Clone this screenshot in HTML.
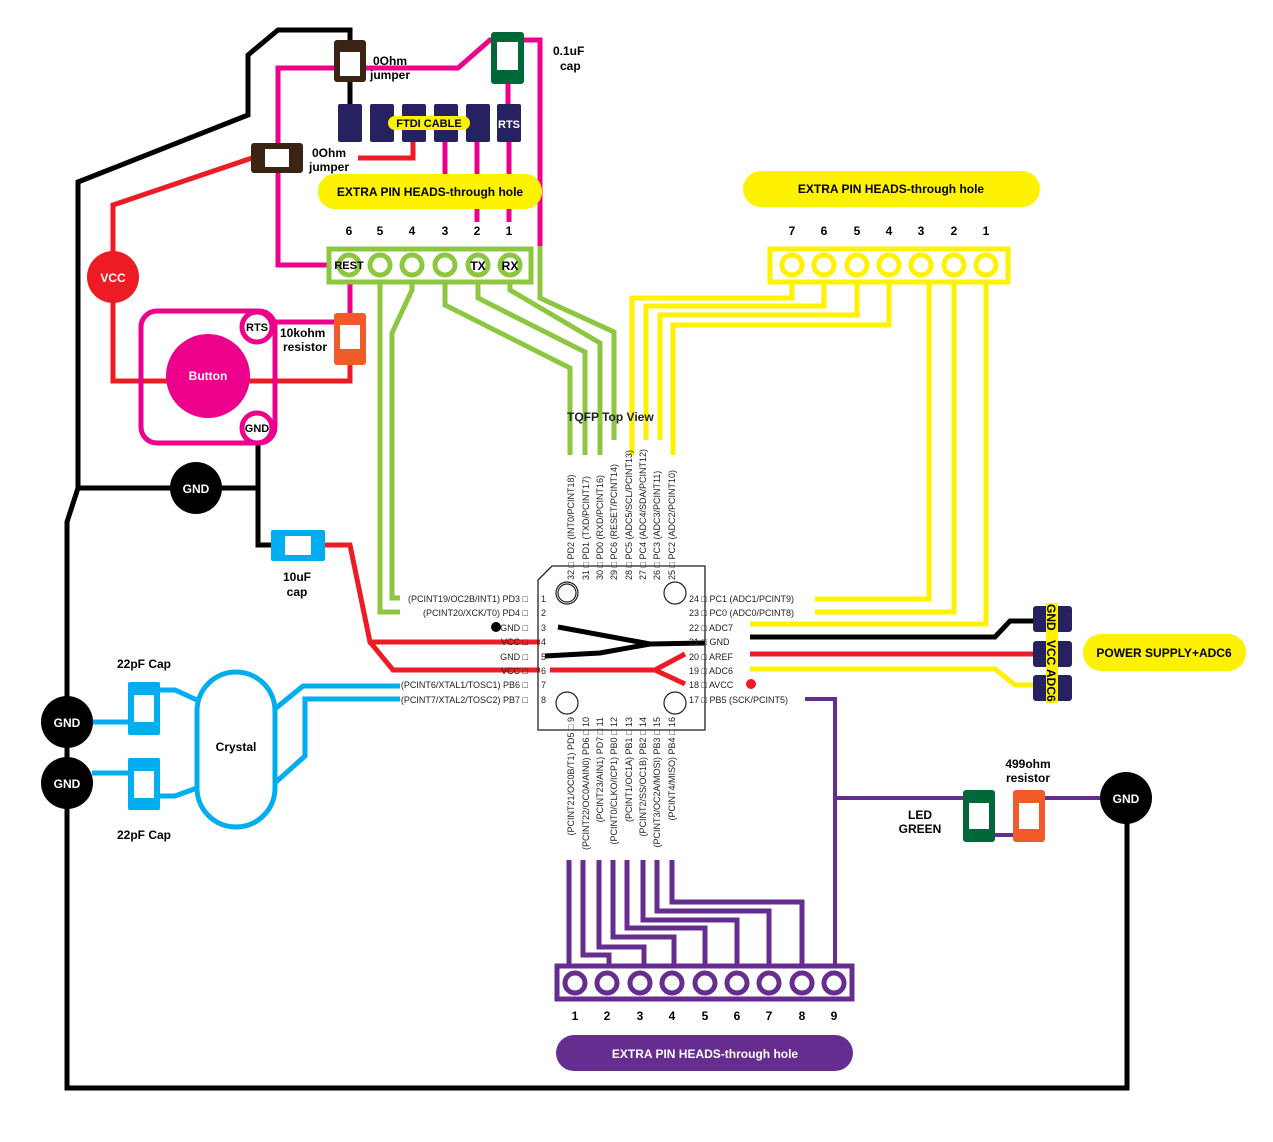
<!DOCTYPE html>
<html><head><meta charset="utf-8"><style>
html,body{margin:0;padding:0;background:#fff;}
svg{display:block;}
.b{font-family:"Liberation Sans",sans-serif;font-weight:bold;}
.s{font-family:"Liberation Sans",sans-serif;font-size:9px;fill:#222;}
</style></head><body>
<svg width="1273" height="1142" viewBox="0 0 1273 1142" xmlns="http://www.w3.org/2000/svg">
<g fill="none" stroke-linejoin="miter">
<polyline points="350,42 350,30 278,30 248,55 248,115 78,182 78,488 67,522 67,1088 1127,1088 1127,800" stroke="#000" stroke-width="5"/>
<line x1="350" y1="80" x2="350" y2="105" stroke="#000" stroke-width="5"/>
<polyline points="78,488 258,488" stroke="#000" stroke-width="5"/>
<polyline points="258,440 258,545 280,545" stroke="#000" stroke-width="5"/>
<polyline points="340,68 278,68 278,265 330,265" stroke="#ec008c" stroke-width="5"/>
<polyline points="365,68 418,68" stroke="#ec008c" stroke-width="5"/>
<polyline points="418,68 458,68 490,40 500,40" stroke="#ec008c" stroke-width="5"/>
<polyline points="520,40 540,40 540,246" stroke="#ec008c" stroke-width="5"/>
<line x1="508" y1="80" x2="508" y2="105" stroke="#ec008c" stroke-width="5"/>
<line x1="445" y1="142" x2="445" y2="178" stroke="#ec008c" stroke-width="5"/>
<line x1="477" y1="142" x2="477" y2="222" stroke="#ec008c" stroke-width="5"/>
<line x1="509" y1="142" x2="509" y2="222" stroke="#ec008c" stroke-width="5"/>
<line x1="350" y1="283" x2="350" y2="316" stroke="#ec008c" stroke-width="5"/>
<polyline points="272,322 337,322" stroke="#ec008c" stroke-width="5"/>
<polyline points="358,158 413,158 413,142" stroke="#ed1c24" stroke-width="5"/>
<polyline points="252,158 113,205 113,381 350,381 350,362" stroke="#ed1c24" stroke-width="5"/>
<polyline points="323,545 350,545 370,642 540,642" stroke="#ed1c24" stroke-width="5"/>
<polyline points="370,642 393,670 540,670" stroke="#ed1c24" stroke-width="5"/>
<polyline points="750,654 1040,654" stroke="#ed1c24" stroke-width="5"/>
<polyline points="380,283 380,612 400,612" stroke="#8dc63f" stroke-width="5"/>
<polyline points="412,283 412,290 392,333 392,598 400,598" stroke="#8dc63f" stroke-width="5"/>
<polyline points="445,283 445,305 570,368 570,455" stroke="#8dc63f" stroke-width="5"/>
<polyline points="478,283 478,298 585,352 585,455" stroke="#8dc63f" stroke-width="5"/>
<polyline points="510,283 510,290 600,343 600,455" stroke="#8dc63f" stroke-width="5"/>
<polyline points="540,246 540,298 614,332 614,440" stroke="#8dc63f" stroke-width="5"/>
<rect x="329" y="249" width="202" height="33" stroke="#8dc63f" stroke-width="5"/>
<polyline points="792,283 792,298 632,298 632,455" stroke="#fff200" stroke-width="5"/>
<polyline points="824,283 824,306 646,306 646,440" stroke="#fff200" stroke-width="5"/>
<polyline points="857,283 857,315 660,315 660,440" stroke="#fff200" stroke-width="5"/>
<polyline points="889,283 889,325 673,325 673,455" stroke="#fff200" stroke-width="5"/>
<polyline points="929,283 929,599 815,599" stroke="#fff200" stroke-width="5"/>
<polyline points="954,283 954,612 815,612" stroke="#fff200" stroke-width="5"/>
<polyline points="986,283 986,624 750,624" stroke="#fff200" stroke-width="5"/>
<polyline points="750,669 995,669 1015,685 1040,685" stroke="#fff200" stroke-width="5"/>
<rect x="770" y="249" width="238" height="33" stroke="#fff200" stroke-width="5"/>
<polyline points="750,637 995,637 1010,621 1040,621" stroke="#000" stroke-width="5"/>
<polyline points="92,722 132,722" stroke="#00aeef" stroke-width="5"/>
<polyline points="92,773 132,773" stroke="#00aeef" stroke-width="5"/>
<polyline points="158,690 175,690 197,700" stroke="#00aeef" stroke-width="5"/>
<polyline points="158,796 175,796 197,788" stroke="#00aeef" stroke-width="5"/>
<polyline points="276,708 303,686 400,686" stroke="#00aeef" stroke-width="5"/>
<polyline points="276,782 305,756 305,699 400,699" stroke="#00aeef" stroke-width="5"/>
<rect x="197" y="672" width="78" height="155" rx="39" stroke="#00aeef" stroke-width="5"/>
<polyline points="805,699 835,699 835,968" stroke="#662d91" stroke-width="4"/>
<polyline points="835,798 965,798" stroke="#662d91" stroke-width="4"/>
<polyline points="1044,798 1102,798" stroke="#662d91" stroke-width="4"/>
<polyline points="994,835 1014,835" stroke="#662d91" stroke-width="4"/>
<polyline points="569,860 569,966" stroke="#662d91" stroke-width="5"/>
<polyline points="583,860 583,955 609,955 609,966" stroke="#662d91" stroke-width="5"/>
<polyline points="599,860 599,947 644,947 644,966" stroke="#662d91" stroke-width="5"/>
<polyline points="613,860 613,937 674,937 674,966" stroke="#662d91" stroke-width="5"/>
<polyline points="627,860 627,928 705,928 705,966" stroke="#662d91" stroke-width="5"/>
<polyline points="643,860 643,920 737,920 737,966" stroke="#662d91" stroke-width="5"/>
<polyline points="657,860 657,911 769,911 769,966" stroke="#662d91" stroke-width="5"/>
<polyline points="672,860 672,902 802,902 802,966" stroke="#662d91" stroke-width="5"/>
<rect x="557" y="966" width="295" height="33" stroke="#662d91" stroke-width="5"/>
<polyline points="558,627 650,644 705,643" stroke="#000" stroke-width="5"/>
<polyline points="545,656 600,653 650,644" stroke="#000" stroke-width="5"/>
<polyline points="550,670 655,670 685,654" stroke="#ed1c24" stroke-width="5"/>
<polyline points="655,670 685,684" stroke="#ed1c24" stroke-width="5"/>
</g>
<g fill="#fff" stroke="#8dc63f" stroke-width="5">
<circle cx="349" cy="265" r="10"/><circle cx="380" cy="265" r="10"/><circle cx="412" cy="265" r="10"/><circle cx="445" cy="265" r="10"/><circle cx="478" cy="265" r="10"/><circle cx="510" cy="265" r="10"/>
</g>
<g fill="#fff" stroke="#fff200" stroke-width="5">
<circle cx="792" cy="265" r="10"/><circle cx="824" cy="265" r="10"/><circle cx="857" cy="265" r="10"/><circle cx="889" cy="265" r="10"/><circle cx="921" cy="265" r="10"/><circle cx="954" cy="265" r="10"/><circle cx="986" cy="265" r="10"/>
</g>
<g fill="#fff" stroke="#662d91" stroke-width="5">
<circle cx="575" cy="983" r="10"/><circle cx="607" cy="983" r="10"/><circle cx="640" cy="983" r="10"/><circle cx="672" cy="983" r="10"/><circle cx="705" cy="983" r="10"/><circle cx="737" cy="983" r="10"/><circle cx="769" cy="983" r="10"/><circle cx="802" cy="983" r="10"/><circle cx="834" cy="983" r="10"/>
</g>
<g class="b" font-size="11" fill="#000" text-anchor="middle">
<text x="349" y="269">REST</text><text x="478" y="270" font-size="12">TX</text><text x="510" y="270" font-size="12">RX</text>
<text x="349" y="235" font-size="12">6</text><text x="380" y="235" font-size="12">5</text><text x="412" y="235" font-size="12">4</text><text x="445" y="235" font-size="12">3</text><text x="477" y="235" font-size="12">2</text><text x="509" y="235" font-size="12">1</text>
<text x="792" y="235" font-size="12">7</text><text x="824" y="235" font-size="12">6</text><text x="857" y="235" font-size="12">5</text><text x="889" y="235" font-size="12">4</text><text x="921" y="235" font-size="12">3</text><text x="954" y="235" font-size="12">2</text><text x="986" y="235" font-size="12">1</text>
<text x="575" y="1020" font-size="12">1</text><text x="607" y="1020" font-size="12">2</text><text x="640" y="1020" font-size="12">3</text><text x="672" y="1020" font-size="12">4</text><text x="705" y="1020" font-size="12">5</text><text x="737" y="1020" font-size="12">6</text><text x="769" y="1020" font-size="12">7</text><text x="802" y="1020" font-size="12">8</text><text x="834" y="1020" font-size="12">9</text>
</g>
<g fill="#262262">
<rect x="338" y="104" width="24" height="38" rx="2"/><rect x="370" y="104" width="24" height="38" rx="2"/><rect x="402" y="104" width="24" height="38" rx="2"/><rect x="434" y="104" width="24" height="38" rx="2"/><rect x="466" y="104" width="24" height="38" rx="2"/><rect x="497" y="104" width="24" height="38" rx="2"/>
</g>
<rect x="388" y="116" width="82" height="14" rx="7" fill="#fff200"/>
<text x="429" y="127" class="b" font-size="11" text-anchor="middle">FTDI CABLE</text>
<text x="509" y="128" class="b" font-size="11" fill="#fff" text-anchor="middle">RTS</text>
<rect x="334" y="40" width="32" height="42" rx="3" fill="#3c2415"/><rect x="340" y="52" width="20" height="24" fill="#fff"/>
<rect x="251" y="143" width="52" height="30" rx="3" fill="#3c2415"/><rect x="265" y="149" width="24" height="18" fill="#fff"/>
<rect x="491" y="32" width="33" height="52" rx="3" fill="#006838"/><rect x="497" y="42" width="21" height="28" fill="#fff"/>
<g class="b" font-size="12" fill="#000">
<text x="373" y="65">0Ohm</text><text x="370" y="79">jumper</text>
<text x="312" y="157">0Ohm</text><text x="309" y="171">jumper</text>
<text x="553" y="55">0.1uF</text><text x="560" y="70">cap</text>
</g>
<rect x="318" y="174" width="224" height="35" rx="17" fill="#fff200"/>
<text x="430" y="196" class="b" font-size="12" text-anchor="middle">EXTRA PIN HEADS-through hole</text>
<rect x="743" y="171" width="297" height="36" rx="18" fill="#fff200"/>
<text x="891" y="193" class="b" font-size="12" text-anchor="middle">EXTRA PIN HEADS-through hole</text>
<rect x="556" y="1035" width="297" height="36" rx="18" fill="#662d91"/>
<text x="705" y="1058" class="b" font-size="12" fill="#fff" text-anchor="middle">EXTRA PIN HEADS-through hole</text>
<rect x="1083" y="634" width="163" height="37" rx="18" fill="#fff200"/>
<text x="1164" y="657" class="b" font-size="12" text-anchor="middle">POWER SUPPLY+ADC6</text>
<circle cx="113" cy="277" r="26" fill="#ed1c24"/>
<text x="113" y="282" class="b" font-size="12" fill="#fff" text-anchor="middle">VCC</text>
<rect x="141" y="311" width="134" height="132" rx="16" fill="none" stroke="#ec008c" stroke-width="5"/>
<circle cx="208" cy="376" r="42" fill="#ec008c"/>
<text x="208" y="380" class="b" font-size="12" fill="#fff" text-anchor="middle">Button</text>
<circle cx="257" cy="327" r="15" fill="#fff" stroke="#ec008c" stroke-width="5"/>
<text x="257" y="331" class="b" font-size="11" text-anchor="middle">RTS</text>
<circle cx="257" cy="428" r="15" fill="#fff" stroke="#ec008c" stroke-width="5"/>
<text x="257" y="432" class="b" font-size="11" text-anchor="middle">GND</text>
<rect x="334" y="313" width="32" height="52" rx="3" fill="#f15a29"/><rect x="340" y="325" width="20" height="24" fill="#fff"/>
<text x="280" y="337" class="b" font-size="12">10kohm</text><text x="283" y="351" class="b" font-size="12">resistor</text>
<circle cx="196" cy="488" r="26" fill="#000"/>
<text x="196" y="493" class="b" font-size="12" fill="#fff" text-anchor="middle">GND</text>
<rect x="271" y="530" width="54" height="31" rx="2" fill="#00aeef"/><rect x="285" y="536" width="26" height="19" fill="#fff"/>
<text x="297" y="581" class="b" font-size="12" text-anchor="middle">10uF</text><text x="297" y="596" class="b" font-size="12" text-anchor="middle">cap</text>
<circle cx="67" cy="722" r="26" fill="#000"/><text x="67" y="727" class="b" font-size="12" fill="#fff" text-anchor="middle">GND</text>
<circle cx="67" cy="783" r="26" fill="#000"/><text x="67" y="788" class="b" font-size="12" fill="#fff" text-anchor="middle">GND</text>
<rect x="128" y="682" width="32" height="53" rx="2" fill="#00aeef"/><rect x="134" y="695" width="20" height="27" fill="#fff"/>
<rect x="128" y="758" width="32" height="52" rx="2" fill="#00aeef"/><rect x="134" y="771" width="20" height="27" fill="#fff"/>
<text x="144" y="668" class="b" font-size="12" text-anchor="middle">22pF Cap</text>
<text x="144" y="839" class="b" font-size="12" text-anchor="middle">22pF Cap</text>
<text x="236" y="751" class="b" font-size="12" text-anchor="middle">Crystal</text>
<rect x="1033" y="606" width="39" height="26" rx="3" fill="#262262"/>
<rect x="1033" y="641" width="39" height="26" rx="3" fill="#262262"/>
<rect x="1033" y="675" width="39" height="26" rx="3" fill="#262262"/>
<rect x="1046" y="603" width="12" height="100" fill="#fff200"/>
<g class="b" font-size="12"><text transform="translate(1047,604) rotate(90)">GND</text><text transform="translate(1047,640) rotate(90)">VCC</text><text transform="translate(1047,669) rotate(90)">ADC6</text></g>
<rect x="963" y="790" width="32" height="52" rx="3" fill="#006838"/><rect x="969" y="803" width="20" height="26" fill="#fff"/>
<rect x="1013" y="790" width="32" height="52" rx="3" fill="#f15a29"/><rect x="1019" y="803" width="20" height="26" fill="#fff"/>
<text x="920" y="819" class="b" font-size="12" text-anchor="middle">LED</text><text x="920" y="833" class="b" font-size="12" text-anchor="middle">GREEN</text>
<text x="1028" y="768" class="b" font-size="12" text-anchor="middle">499ohm</text><text x="1028" y="782" class="b" font-size="12" text-anchor="middle">resistor</text>
<circle cx="1126" cy="798" r="26" fill="#000"/><text x="1126" y="803" class="b" font-size="12" fill="#fff" text-anchor="middle">GND</text>
<polygon points="538,580 552,566 705,566 705,730 538,730" fill="none" stroke="#222" stroke-width="1.3"/>
<g fill="none" stroke="#222" stroke-width="1.2">
<circle cx="567" cy="593" r="11"/><circle cx="567" cy="593" r="9"/><circle cx="675" cy="593" r="11"/><circle cx="567" cy="703" r="11"/><circle cx="675" cy="703" r="11"/>
</g>
<circle cx="496" cy="627" r="5" fill="#000"/><circle cx="751" cy="684" r="5" fill="#ed1c24"/>
<text x="567" y="421" font-family="Liberation Sans,sans-serif" font-size="12" font-weight="bold" fill="#222">TQFP Top View</text>
<g class="s" text-anchor="end">
<text x="528" y="602">(PCINT19/OC2B/INT1) PD3 □</text>
<text x="528" y="616">(PCINT20/XCK/T0) PD4 □</text>
<text x="528" y="631">GND □</text>
<text x="528" y="645">VCC □</text>
<text x="528" y="660">GND □</text>
<text x="528" y="674">VCC □</text>
<text x="528" y="688">(PCINT6/XTAL1/TOSC1) PB6 □</text>
<text x="528" y="703">(PCINT7/XTAL2/TOSC2) PB7 □</text>
</g>
<g class="s"><text x="541" y="602">1</text><text x="541" y="616">2</text><text x="541" y="631">3</text><text x="541" y="645">4</text><text x="541" y="660">5</text><text x="541" y="674">6</text><text x="541" y="688">7</text><text x="541" y="703">8</text></g>
<g class="s">
<text x="689" y="602">24 □ PC1 (ADC1/PCINT9)</text>
<text x="689" y="616">23 □ PC0 (ADC0/PCINT8)</text>
<text x="689" y="631">22 □ ADC7</text>
<text x="689" y="645">21 □ GND</text>
<text x="689" y="660">20 □ AREF</text>
<text x="689" y="674">19 □ ADC6</text>
<text x="689" y="688">18 □ AVCC</text>
<text x="689" y="703">17 □ PB5 (SCK/PCINT5)</text>
</g>
<g class="s">
<text transform="translate(574,580) rotate(-90)">32 □ PD2 (INT0/PCINT18)</text>
<text transform="translate(589,580) rotate(-90)">31 □ PD1 (TXD/PCINT17)</text>
<text transform="translate(603,580) rotate(-90)">30 □ PD0 (RXD/PCINT16)</text>
<text transform="translate(617,580) rotate(-90)">29 □ PC6 (RESET/PCINT14)</text>
<text transform="translate(632,580) rotate(-90)">28 □ PC5 (ADC5/SCL/PCINT13)</text>
<text transform="translate(646,580) rotate(-90)">27 □ PC4 (ADC4/SDA/PCINT12)</text>
<text transform="translate(660,580) rotate(-90)">26 □ PC3 (ADC3/PCINT11)</text>
<text transform="translate(675,580) rotate(-90)">25 □ PC2 (ADC2/PCINT10)</text>
</g>
<g class="s" text-anchor="end">
<text transform="translate(574,717) rotate(-90)">(PCINT21/OC0B/T1) PD5 □ 9</text>
<text transform="translate(589,717) rotate(-90)">(PCINT22/OC0A/AIN0) PD6 □ 10</text>
<text transform="translate(603,717) rotate(-90)">(PCINT23/AIN1) PD7 □ 11</text>
<text transform="translate(617,717) rotate(-90)">(PCINT0/CLKO/ICP1) PB0 □ 12</text>
<text transform="translate(632,717) rotate(-90)">(PCINT1/OC1A) PB1 □ 13</text>
<text transform="translate(646,717) rotate(-90)">(PCINT2/SS/OC1B) PB2 □ 14</text>
<text transform="translate(660,717) rotate(-90)">(PCINT3/OC2A/MOSI) PB3 □ 15</text>
<text transform="translate(675,717) rotate(-90)">(PCINT4/MISO) PB4 □ 16</text>
</g>
</svg>
</body></html>
